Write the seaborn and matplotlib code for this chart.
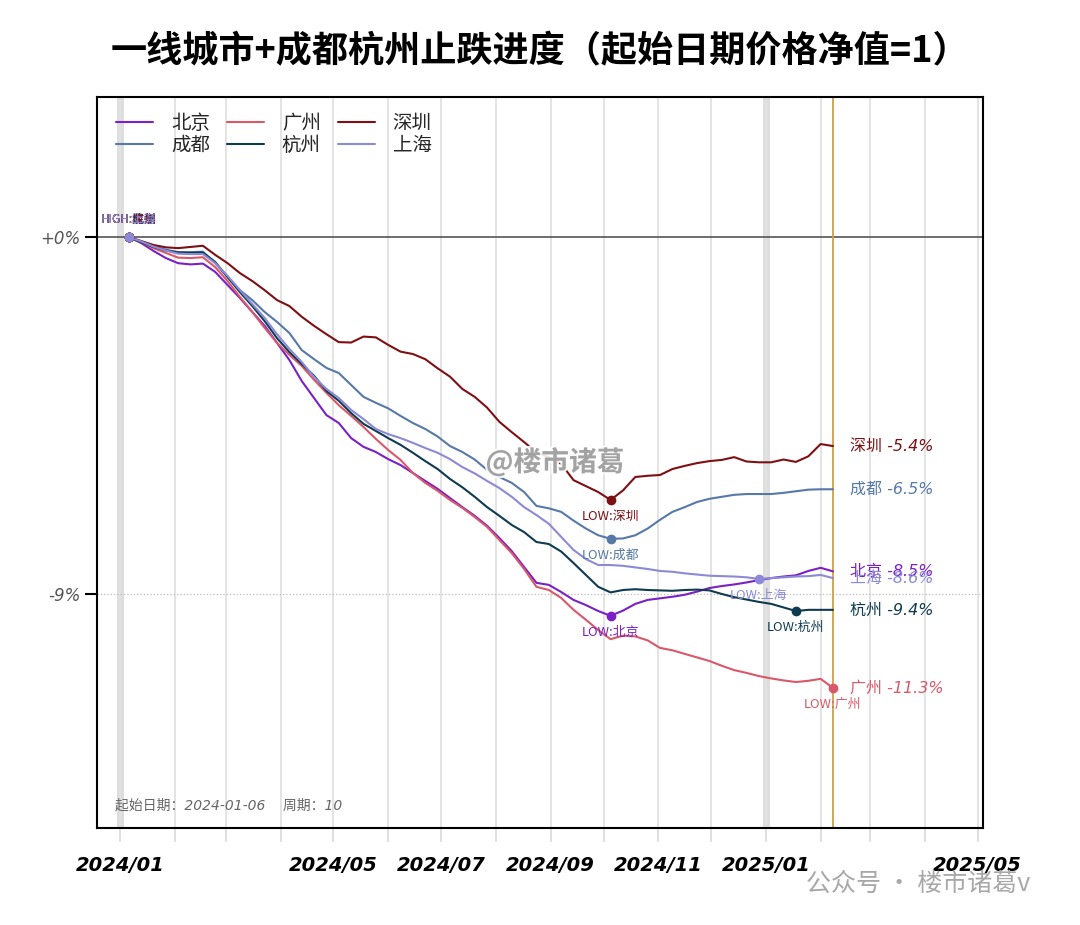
import numpy as np
import pandas as pd
import matplotlib
matplotlib.use('Agg')
import matplotlib.pyplot as plt
import matplotlib.patheffects as pe
import seaborn as sns

# weekly net value change vs start date (%)
dates = pd.date_range('2024-01-06', periods=58, freq='7D')

beijing = [0, -0.15, -0.35, -0.53, -0.66, -0.69, -0.67, -0.88, -1.21, -1.54,
           -1.89, -2.24, -2.67, -3.10, -3.63, -4.06, -4.49, -4.69, -5.07, -5.29,
           -5.42, -5.60, -5.75, -5.95, -6.15, -6.35, -6.58, -6.81, -7.03, -7.28,
           -7.59, -7.92, -8.32, -8.72, -8.77, -8.95, -9.15, -9.28, -9.43, -9.55,
           -9.42, -9.25, -9.15, -9.11, -9.07, -9.02, -8.94, -8.85, -8.80, -8.76,
           -8.71, -8.65, -8.60, -8.56, -8.53, -8.42, -8.34, -8.43]
chengdu = [0, -0.11, -0.23, -0.32, -0.38, -0.38, -0.37, -0.66, -1.01, -1.34,
           -1.59, -1.89, -2.14, -2.42, -2.85, -3.08, -3.30, -3.43, -3.73, -4.03,
           -4.18, -4.32, -4.51, -4.69, -4.84, -5.03, -5.27, -5.42, -5.61, -5.87,
           -6.05, -6.20, -6.43, -6.78, -6.84, -6.93, -7.15, -7.35, -7.52, -7.61,
           -7.60, -7.52, -7.35, -7.13, -6.93, -6.81, -6.68, -6.60, -6.55, -6.50,
           -6.48, -6.48, -6.48, -6.45, -6.41, -6.37, -6.36, -6.36]
guangzhou = [0, -0.13, -0.28, -0.40, -0.52, -0.53, -0.51, -0.76, -1.11, -1.51,
             -1.89, -2.29, -2.67, -2.97, -3.25, -3.60, -3.93, -4.24, -4.51, -4.79,
             -5.09, -5.37, -5.62, -5.95, -6.20, -6.40, -6.63, -6.83, -7.06, -7.31,
             -7.64, -7.97, -8.37, -8.82, -8.90, -9.10, -9.40, -9.65, -9.91, -10.14,
             -10.05, -10.07, -10.17, -10.36, -10.42, -10.51, -10.60, -10.69, -10.81, -10.92,
             -10.99, -11.07, -11.13, -11.18, -11.22, -11.19, -11.14, -11.37]
hangzhou = [0, -0.13, -0.25, -0.34, -0.39, -0.40, -0.39, -0.63, -1.01, -1.39,
            -1.74, -2.12, -2.55, -2.90, -3.20, -3.50, -3.88, -4.13, -4.44, -4.71,
            -4.89, -5.07, -5.24, -5.44, -5.65, -5.85, -6.10, -6.31, -6.55, -6.81,
            -7.03, -7.26, -7.44, -7.69, -7.74, -7.93, -8.22, -8.52, -8.82, -8.96,
            -8.90, -8.88, -8.90, -8.91, -8.92, -8.90, -8.89, -8.91, -9.00, -9.08,
            -9.14, -9.20, -9.25, -9.34, -9.43, -9.40, -9.40, -9.40]
shenzhen = [0, -0.10, -0.20, -0.26, -0.28, -0.25, -0.22, -0.45, -0.66, -0.91,
            -1.11, -1.34, -1.59, -1.74, -2.01, -2.24, -2.45, -2.65, -2.66, -2.51,
            -2.53, -2.72, -2.89, -2.95, -3.08, -3.31, -3.52, -3.83, -4.03, -4.30,
            -4.66, -4.92, -5.17, -5.43, -5.55, -5.72, -6.13, -6.28, -6.43, -6.63,
            -6.39, -6.05, -6.02, -6.00, -5.85, -5.77, -5.70, -5.65, -5.62, -5.55,
            -5.66, -5.68, -5.68, -5.61, -5.67, -5.53, -5.22, -5.27]
shanghai = [0, -0.11, -0.24, -0.34, -0.42, -0.43, -0.43, -0.66, -0.98, -1.34,
            -1.69, -2.04, -2.45, -2.82, -3.15, -3.53, -3.83, -4.06, -4.36, -4.59,
            -4.84, -4.97, -5.07, -5.19, -5.32, -5.44, -5.60, -5.80, -5.96, -6.15,
            -6.33, -6.55, -6.81, -7.01, -7.23, -7.56, -7.89, -8.12, -8.27, -8.27,
            -8.29, -8.33, -8.37, -8.42, -8.44, -8.48, -8.51, -8.54, -8.55, -8.56,
            -8.58, -8.62, -8.60, -8.58, -8.56, -8.55, -8.52, -8.60]

cities = ['北京', '成都', '广州', '杭州', '深圳', '上海']
series = [beijing, chengdu, guangzhou, hangzhou, shenzhen, shanghai]
colors = ['#7a20c6', '#5679a8', '#d9586a', '#0f3b50', '#7e1014', '#8c8ad6']
end_labels = ['北京 -8.5%', '成都 -6.5%', '广州 -11.3%', '杭州 -9.4%', '深圳 -5.4%', '上海 -8.6%']

month_ticks = pd.date_range('2024-01-01', '2025-05-01', freq='MS')
month_labels = ['2024/01', '', '', '', '2024/05', '', '2024/07', '', '2024/09', '',
                '2024/11', '', '2025/01', '', '', '', '2025/05']
y_ticks = [0, -9]
y_labels = ['+0%', '-9%']

title = '一线城市+成都杭州止跌进度（起始日期价格净值=1）'

sns.set_theme(style='white')
plt.rcParams['font.family'] = ['Noto Sans CJK SC', 'DejaVu Sans']
plt.rcParams['axes.unicode_minus'] = False

df = pd.DataFrame({
    'date': np.tile(dates, len(cities)),
    'city': np.repeat(cities, len(dates)),
    'value': np.concatenate(series),
})

fig = plt.figure(figsize=(10.8, 9.25), dpi=100)
ax = fig.add_axes([0.0898, 0.1049, 0.8204, 0.7902])

# background grid
ax.set_axisbelow(True)
ax.grid(axis='x', color='#e2e2e2', lw=1.3)
ax.grid(axis='y', visible=False)
for d in ['2024-01-01', '2025-01-01']:
    ax.axvline(pd.Timestamp(d), color='#dedede', lw=5, zorder=0)
ax.axhline(0, color='#555555', lw=1.2, zorder=1)
ax.axhline(-9, color='#bbbbbb', lw=0.9, ls=':', zorder=1)
ax.axvline(dates[-1], color='#c9a24a', lw=1.3, zorder=1)

sns.lineplot(data=df, x='date', y='value', hue='city', hue_order=cities,
             palette=colors, linewidth=1.5, ax=ax, zorder=3)

# markers and labels
for city, vals, c, lab in zip(cities, series, colors, end_labels):
    v = np.array(vals)
    lo = int(np.argmin(v))
    hi = int(np.argmax(v))
    ax.scatter(dates[lo], v[lo], color=c, s=36, zorder=5)
    ax.annotate(f'LOW:{city}', (dates[lo], v[lo]), xytext=(0, -7),
                textcoords='offset points', ha='center', va='top', fontsize=9.3, color=c)
    ax.scatter(dates[hi], v[hi], color=c, s=36, zorder=5)
    ax.annotate(f'HIGH:{city}', (dates[hi], v[hi]), xytext=(0, 8),
                textcoords='offset points', ha='center', va='bottom', fontsize=8.5, color=c)
    ax.annotate(lab, (dates[-1], v[-1]), xytext=(12, 0), textcoords='offset points',
                ha='left', va='center', fontsize=11.5, color=c, style='italic',
                family=['DejaVu Sans', 'Noto Sans CJK SC'])

ax.set_xlim(pd.Timestamp('2023-12-19'), pd.Timestamp('2025-05-04'))
ax.set_ylim(-14.9, 3.53)
ax.set_xlabel('')
ax.set_ylabel('')

ax.set_xticks(month_ticks)
ax.set_xticklabels(month_labels, fontsize=14, fontweight='bold', style='italic',
                   family='DejaVu Sans', color='black')
ax.tick_params(axis='x', length=10, width=1.3, color='#dddddd', pad=10, bottom=True)
ax.set_yticks(y_ticks)
ax.set_yticklabels(y_labels, fontsize=12, style='italic', family='DejaVu Sans', color='#555555')
ax.tick_params(axis='y', length=9, width=1.5, color='black', pad=3, left=True)

for s in ax.spines.values():
    s.set_visible(True)
    s.set_color('black')
    s.set_linewidth(1.5)

handles, labels = ax.get_legend_handles_labels()
ax.legend(handles, labels, ncol=3, loc='upper left', bbox_to_anchor=(0.0, 1.005),
          frameon=False, fontsize=14, handlelength=1.9, handletextpad=0.9,
          columnspacing=0.9, labelspacing=0.05, borderaxespad=0.6)

ax.text(0.02, 0.025, '起始日期：2024-01-06    周期：10', transform=ax.transAxes,
        fontsize=10, color='#666666', style='italic', family=['DejaVu Sans', 'Noto Sans CJK SC'])

fig.text(0.5, 1 - 52 / 925, title, ha='center', va='center', fontsize=26,
         fontweight='bold', color='black')

# watermarks
fig.text(555 / 1080, 1 - 462 / 925, '@楼市诸葛', ha='center', va='center', fontsize=20,
         fontweight='bold', color='#9a9a9a', alpha=0.9,
         path_effects=[pe.withStroke(linewidth=3, foreground='white')])
fig.text(918 / 1080, 1 - 884 / 925, '公众号 · 楼市诸葛v', ha='center', va='center',
         fontsize=18, color='#a8a8a8')

fig.savefig('out.png', dpi=100)
